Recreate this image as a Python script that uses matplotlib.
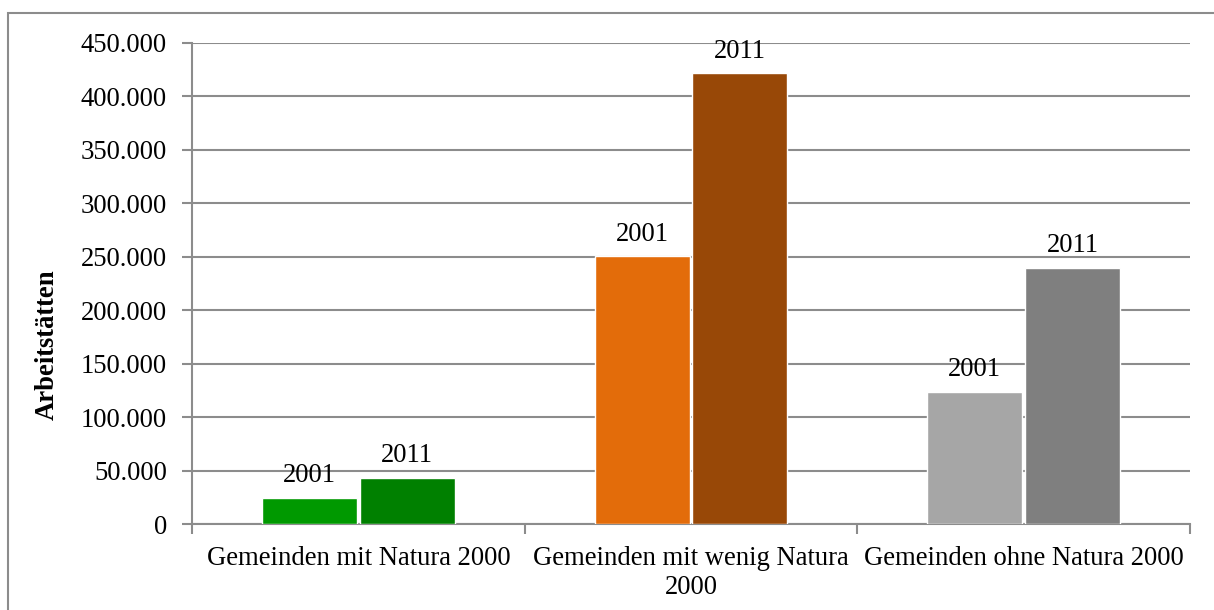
import matplotlib
matplotlib.use("Agg")
import matplotlib.pyplot as plt
from matplotlib.patches import Rectangle
import numpy as np

categories = ["Gemeinden mit Natura 2000", "Gemeinden mit wenig Natura\n2000", "Gemeinden ohne Natura 2000"]
years = ["2001", "2011"]
values_2001 = [24300, 250500, 123500]
values_2011 = [43000, 421500, 239500]
colors_2001 = ["#009900", "#E36C0A", "#A6A6A6"]
colors_2011 = ["#008000", "#984807", "#7F7F7F"]
yticks = [0, 50000, 100000, 150000, 200000, 250000, 300000, 350000, 400000, 450000]
ytick_labels = ["0", "50.000", "100.000", "150.000", "200.000", "250.000", "300.000", "350.000", "400.000", "450.000"]
ylabel = "Arbeitstätten"

plt.rcParams['font.family'] = ['Liberation Serif', 'DejaVu Serif']
fs = 19.2
W, H = 1214, 610
fig = plt.figure(figsize=(W/100, H/100), dpi=100)
ax = fig.add_axes([192/W, 1-524/H, (1190-192)/W, (524-43)/H])

# outer border
fig.patches.append(Rectangle((8/W, -0.05), 1.2, 1-13/H+0.05, transform=fig.transFigure,
                             fill=False, edgecolor="#8C8C8C", linewidth=1.5))

x = np.arange(len(categories))
bw = 0.285
gap = 0.0045
b1 = ax.bar(x - bw/2 - gap, values_2001, bw, color=colors_2001, edgecolor="white", linewidth=1.0, zorder=3)
b2 = ax.bar(x + bw/2 + gap, values_2011, bw, color=colors_2011, edgecolor="white", linewidth=1.0, zorder=3)

for bars, lab in ((b1, years[0]), (b2, years[1])):
    for r in bars:
        ax.annotate(lab, (r.get_x() + r.get_width()/2, r.get_height()), xytext=(0, 7),
                    textcoords="offset points", ha="center", va="bottom", fontsize=fs, zorder=4)

ax.set_xlim(-0.5, 2.5)
ax.set_ylim(0, 450000)
ax.set_yticks(yticks)
ax.set_yticklabels(ytick_labels, fontsize=fs)
ax.set_xticks(x)
ax.set_xticklabels(categories, fontsize=fs, linespacing=1.2)
ax.set_xticks([-0.5, 0.5, 1.5, 2.5], minor=True)
ax.tick_params(axis='x', which='major', length=0, pad=16)
ax.tick_params(axis='x', which='minor', length=7, color="#8C8C8C", width=1.5)
ax.tick_params(axis='y', length=7, color="#8C8C8C", width=1.5, pad=11)
ax.yaxis.grid(True, color="#8C8C8C", linewidth=1.5, zorder=0)
ax.set_axisbelow(True)
for s in ("top", "right"):
    ax.spines[s].set_visible(False)
for s in ("left", "bottom"):
    ax.spines[s].set_color("#8C8C8C")
    ax.spines[s].set_linewidth(1.5)
fig.text(47/W, 1-345/H, ylabel, rotation=90, ha="center", va="center",
         fontsize=fs, fontweight="bold")

fig.savefig("out.png", dpi=100, facecolor="white")
